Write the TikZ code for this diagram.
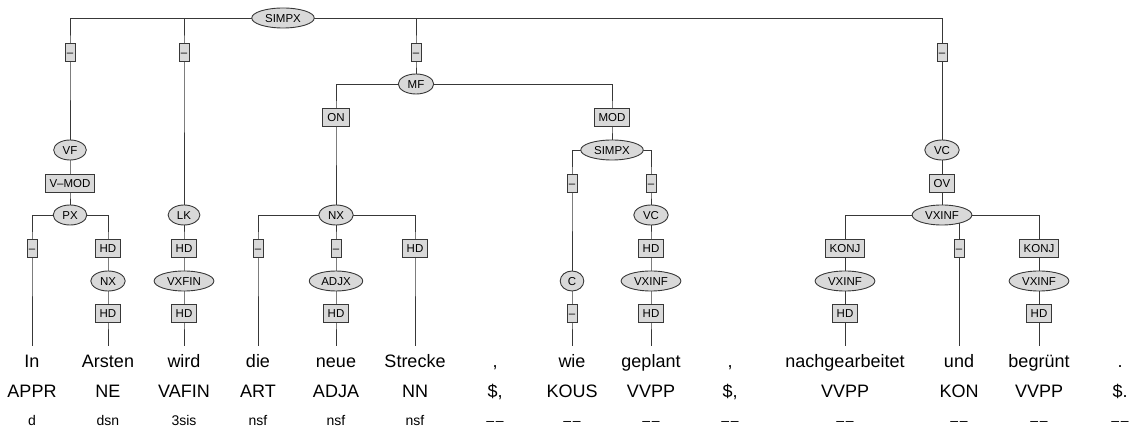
\documentclass[tikz,border=0pt]{standalone}
\usepackage{fontspec}
\setmainfont{Liberation Sans}
\usetikzlibrary{shapes.geometric,backgrounds}

\definecolor{nodegray}{gray}{0.85}
\definecolor{linegray}{gray}{0.22}

\newcommand{\nomorph}{–\kern1.5pt–}

\tikzset{
    cat/.style={ellipse,draw=linegray,fill=nodegray,line width=0.9pt,
        font=\fontsize{11.5}{12}\selectfont,inner xsep=4.2pt,inner ysep=0pt,
        text height=8.2pt,text depth=0pt,minimum height=20pt},
    fn/.style={rectangle,draw=linegray,fill=nodegray,line width=0.9pt,
        font=\fontsize{11.5}{12}\selectfont,inner xsep=4.5pt,inner ysep=0pt,
        text height=8.2pt,text depth=0pt,minimum height=18pt},
    fndash/.style={fn,inner xsep=1.8pt},
    word/.style={anchor=base,font=\fontsize{18}{20}\selectfont,
        inner ysep=8pt,text height=13pt,text depth=4pt},
    tagpos/.style={anchor=base,font=\fontsize{18}{20}\selectfont},
    morph/.style={anchor=base,font=\fontsize{14}{16}\selectfont},
    branch/.style={draw=linegray,line width=0.9pt}
}

\begin{document}
\begin{tikzpicture}[x=1pt,y=-1pt]
            \useasboundingbox (0,0) rectangle (1129,427);

            % categories
            \node[cat] (simpx_t) at (283,18) {SIMPX};
            \node[cat] (mf) at (416,84) {MF};
            \node[cat] (vf) at (70,150) {VF};
            \node[cat] (simpx_i) at (612,150) {SIMPX};
            \node[cat] (vc) at (942,150) {VC};
            \node[cat] (px) at (70,215) {PX};
            \node[cat] (lk) at (184,215) {LK};
            \node[cat] (nx) at (336,215) {NX};
            \node[cat] (vc_i) at (651,215) {VC};
            \node[cat] (vxinf_c) at (942,215) {VXINF};
            \node[cat] (nx_a) at (108,281) {NX};
            \node[cat] (vxfin) at (184,281) {VXFIN};
            \node[cat] (adjx) at (336,281) {ADJX};
            \node[cat] (c) at (572,281) {C};
            \node[cat] (vxinf_g) at (651,281) {VXINF};
            \node[cat] (vxinf_n) at (845,281) {VXINF};
            \node[cat] (vxinf_b) at (1039,281) {VXINF};

            % edge labels
            \node[fndash] (e_vf) at (70,52) {–};
            \node[fndash] (e_lk) at (184,52) {–};
            \node[fndash] (e_mf) at (416,52) {–};
            \node[fndash] (e_vc) at (942,52) {–};
            \node[fn] (e_on) at (336,117) {ON};
            \node[fn] (e_mod) at (612,117) {MOD};
            \node[fn] (e_px) at (70,183) {V–MOD};
            \node[fndash] (e_c) at (572,183) {–};
            \node[fndash] (e_vci) at (651,183) {–};
            \node[fn] (e_vxinf_c) at (942,183) {OV};
            \node[fndash] (e_in) at (32,248) {–};
            \node[fn] (e_nx_a) at (108,248) {HD};
            \node[fn] (e_vxfin) at (184,248) {HD};
            \node[fndash] (e_die) at (258,248) {–};
            \node[fndash] (e_adjx) at (336,248) {–};
            \node[fn] (e_strecke) at (415,248) {HD};
            \node[fn] (e_vxinf_g) at (651,248) {HD};
            \node[fn] (e_vxinf_n) at (845,248) {KONJ};
            \node[fndash] (e_und) at (959,248) {–};
            \node[fn] (e_vxinf_b) at (1039,248) {KONJ};
            \node[fn] (e_arsten) at (108,313) {HD};
            \node[fn] (e_wird) at (184,313) {HD};
            \node[fn] (e_neue) at (336,313) {HD};
            \node[fndash] (e_wie) at (572,313) {–};
            \node[fn] (e_geplant) at (651,313) {HD};
            \node[fn] (e_nachgearbeitet) at (845,313) {HD};
            \node[fn] (e_begruent) at (1039,313) {HD};

            % words
            \node[word] (w_in) at (32,367) {In};
            \node[word] (w_arsten) at (108,367) {Arsten};
            \node[word] (w_wird) at (184,367) {wird};
            \node[word] (w_die) at (258,367) {die};
            \node[word] (w_neue) at (336,367) {neue};
            \node[word] (w_strecke) at (415,367) {Strecke};
            \node[word] (w_komma_a) at (495,367) {,};
            \node[word] (w_wie) at (572,367) {wie};
            \node[word] (w_geplant) at (651,367) {geplant};
            \node[word] (w_komma_b) at (730,367) {,};
            \node[word] (w_nachgearbeitet) at (845,367) {nachgearbeitet};
            \node[word] (w_und) at (959,367) {und};
            \node[word] (w_begruent) at (1039,367) {begrünt};
            \node[word] (w_punkt) at (1120,367) {.};

            % part of speech
            \node[tagpos] (p_in) at (32,397) {APPR};
            \node[tagpos] (p_arsten) at (108,397) {NE};
            \node[tagpos] (p_wird) at (184,397) {VAFIN};
            \node[tagpos] (p_die) at (258,397) {ART};
            \node[tagpos] (p_neue) at (336,397) {ADJA};
            \node[tagpos] (p_strecke) at (415,397) {NN};
            \node[tagpos] (p_komma_a) at (495,397) {\$,};
            \node[tagpos] (p_wie) at (572,397) {KOUS};
            \node[tagpos] (p_geplant) at (651,397) {VVPP};
            \node[tagpos] (p_komma_b) at (730,397) {\$,};
            \node[tagpos] (p_nachgearbeitet) at (845,397) {VVPP};
            \node[tagpos] (p_und) at (959,397) {KON};
            \node[tagpos] (p_begruent) at (1039,397) {VVPP};
            \node[tagpos] (p_punkt) at (1120,397) {\$.};

            % morphology
            \node[morph] (m_in) at (32,425) {d};
            \node[morph] (m_arsten) at (108,425) {dsn};
            \node[morph] (m_wird) at (184,425) {3sis};
            \node[morph] (m_die) at (258,425) {nsf};
            \node[morph] (m_neue) at (336,425) {nsf};
            \node[morph] (m_strecke) at (415,425) {nsf};
            \node[morph] (m_komma_a) at (495,425) {\nomorph};
            \node[morph] (m_wie) at (572,425) {\nomorph};
            \node[morph] (m_geplant) at (651,425) {\nomorph};
            \node[morph] (m_komma_b) at (730,425) {\nomorph};
            \node[morph] (m_nachgearbeitet) at (845,425) {\nomorph};
            \node[morph] (m_und) at (959,425) {\nomorph};
            \node[morph] (m_begruent) at (1039,425) {\nomorph};
            \node[morph] (m_punkt) at (1120,425) {\nomorph};

            \begin{scope}[on background layer]
                \draw[branch] (simpx_t.center) -| (e_vf.center) -- (vf.center);
                \draw[branch] (simpx_t.center) -| (e_lk.center) -- (lk.center);
                \draw[branch] (simpx_t.center) -| (e_mf.center) -- (mf.center);
                \draw[branch] (simpx_t.center) -| (e_vc.center) -- (vc.center);

                \draw[branch] (mf.center) -| (e_on.center) -- (nx.center);
                \draw[branch] (mf.center) -| (e_mod.center) -- (simpx_i.center);

                \draw[branch] (simpx_i.center) -| (e_c.center) -- (c.center);
                \draw[branch] (simpx_i.center) -| (e_vci.center) -- (vc_i.center);

                \draw[branch] (vf.center) -- (e_px.center) -- (px.center);
                \draw[branch] (px.center) -| (e_in.center) -- (w_in.north);
                \draw[branch] (px.center) -| (e_nx_a.center) -- (nx_a.center)
                    -- (e_arsten.center) -- (w_arsten.north);

                \draw[branch] (lk.center) -- (e_vxfin.center) -- (vxfin.center)
                    -- (e_wird.center) -- (w_wird.north);

                \draw[branch] (nx.center) -| (e_die.center) -- (w_die.north);
                \draw[branch] (nx.center) -- (e_adjx.center) -- (adjx.center)
                    -- (e_neue.center) -- (w_neue.north);
                \draw[branch] (nx.center) -| (e_strecke.center) -- (w_strecke.north);

                \draw[branch] (c.center) -- (e_wie.center) -- (w_wie.north);
                \draw[branch] (vc_i.center) -- (e_vxinf_g.center) -- (vxinf_g.center)
                    -- (e_geplant.center) -- (w_geplant.north);

                \draw[branch] (vc.center) -- (e_vxinf_c.center) -- (vxinf_c.center);
                \draw[branch] (vxinf_c.center) -| (e_vxinf_n.center) -- (vxinf_n.center)
                    -- (e_nachgearbeitet.center) -- (w_nachgearbeitet.north);
                \draw[branch] (vxinf_c.center) -| (e_und.center) -- (w_und.north);
                \draw[branch] (vxinf_c.center) -| (e_vxinf_b.center) -- (vxinf_b.center)
                    -- (e_begruent.center) -- (w_begruent.north);
            \end{scope}

\end{tikzpicture}
\end{document}
